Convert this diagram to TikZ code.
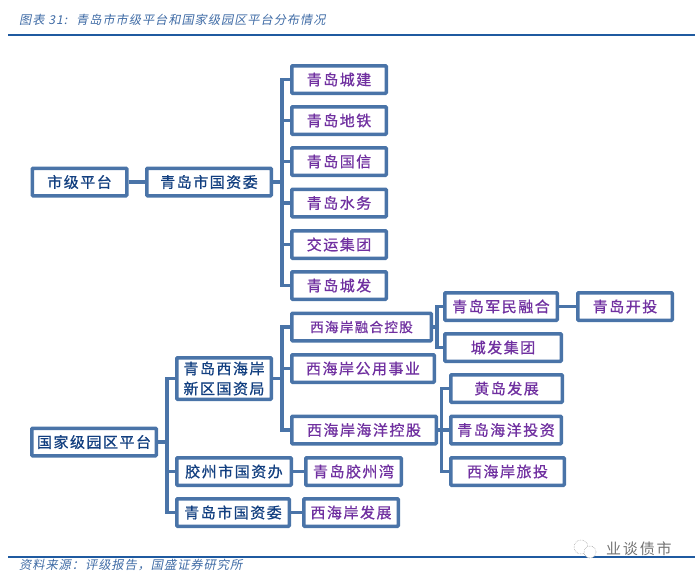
\documentclass[tikz,border=0pt]{standalone}
\usepackage{fontspec}
\newfontfamily\cjk[LetterSpace=10,FakeBold=0.7]{Noto Sans CJK SC}
\newfontfamily\cjkplain[LetterSpace=12]{Noto Sans CJK SC}
\newfontfamily\cjkslant[FakeSlant=0.2,LetterSpace=8]{Noto Sans CJK SC}
\definecolor{boxblue}{HTML}{4A74A8}
\definecolor{headblue}{HTML}{123F80}
\definecolor{leafpurple}{HTML}{7030A0}
\definecolor{ruleblue}{HTML}{1F5AA0}
\definecolor{noteblue}{HTML}{3F6BA5}
\tikzset{
	orgbox/.style={draw=boxblue, line width=3.5, rounded corners=0.8, fill=white, inner sep=0, minimum height=27.5, align=center, text=headblue, font=\cjk\fontsize{15}{20}\selectfont},
	leafbox/.style={orgbox, text=leafpurple},
	link/.style={draw=boxblue, line width=3.5},
	note/.style={anchor=west, inner sep=0, text=noteblue, font=\cjkslant\fontsize{12.2}{15}\selectfont},
	rulerline/.style={draw=ruleblue, line width=1.5}
}

\begin{document}
\begin{tikzpicture}[x=1pt, y=-1pt]
			\useasboundingbox (0, 0) rectangle (695, 581);
			
			%%%%% HEAD AND FOOT %%%%%
			\node[note] (title) at (19, 20) {图表 31:\hspace{9pt}青岛市市级平台和国家级园区平台分布情况};
			\coordinate (topl) at (8, 35);
			\coordinate (topr) at (695, 35);
			\draw[rulerline] (topl) -- (topr);
			
			\coordinate (botl) at (8, 557);
			\coordinate (botr) at (695, 557);
			\draw[rulerline] (botl) -- (botr);
			\node[note] (source) at (19, 565) {资料来源\symbol{"FF1A}评级报告\symbol{"FF0C}国盛证券研究所};
			
			\draw[black!35, line width=0.6, densely dotted] (581, 547) circle (7);
			\draw[black!35, line width=0.6, densely dotted, fill=white] (590, 552) circle (6);
			\node[anchor=west, inner sep=0, text=black!55, font=\cjkplain\fontsize{15}{18}\selectfont] (mark) at (606, 549) {业谈债市};
			
			%%%%% CITY LEVEL %%%%%
			\node[orgbox, minimum width=94.5] (citylevel) at (79.5, 182) {市级平台};
			\node[orgbox, minimum width=124.5] (cityasset) at (209, 182) {青岛市国资委};
			
			\node[leafbox, minimum width=94.5] (chengjian) at (339, 79.5) {青岛城建};
			\node[leafbox, minimum width=94.5] (ditie) at (339, 120.5) {青岛地铁};
			\node[leafbox, minimum width=94.5] (guoxin) at (339, 161.5) {青岛国信};
			\node[leafbox, minimum width=94.5] (shuiwu) at (339, 203) {青岛水务};
			\node[leafbox, minimum width=94.5] (jiaoyun) at (339, 244.5) {交运集团};
			\node[leafbox, minimum width=94.5] (chengfa) at (339, 285.5) {青岛城发};
			
			\draw[link] (citylevel) -- (cityasset);
			\coordinate (citybus) at (282, 182);
			\draw[link] (cityasset) -- (citybus);
			\foreach \leaf in {chengjian, ditie, guoxin, shuiwu, jiaoyun, chengfa}
				\draw[link] (\leaf.west) -| (citybus);
			
			%%%%% NATIONAL LEVEL %%%%%
			\node[orgbox, minimum width=124.5] (natlevel) at (94, 442) {国家级园区平台};
			\node[orgbox, minimum width=94.5, minimum height=41.5] (xihaian) at (224, 378.5) {青岛西海岸\\新区国资局};
			\node[orgbox, minimum width=114.5] (jiaozhou) at (234, 471.5) {胶州市国资办};
			\node[orgbox, minimum width=112.5] (cityasset2) at (233, 512.5) {青岛市国资委};
			
			\node[leafbox, minimum width=139.5, font=\cjk\fontsize{13.5}{18}\selectfont] (ronghe) at (361.5, 327) {西海岸融合控股};
			\node[leafbox, minimum width=142.5] (gongyong) at (363, 368.5) {西海岸公用事业};
			\node[leafbox, minimum width=144.5] (haiyang) at (364, 430) {西海岸海洋控股};
			\node[leafbox, minimum width=95.5] (jiaozhouwan) at (353.5, 471.5) {青岛胶州湾};
			\node[leafbox, minimum width=94.5] (fazhan) at (351, 512.5) {西海岸发展};
			
			\node[leafbox, minimum width=112.5] (junmin) at (501, 306.5) {青岛军民融合};
			\node[leafbox, minimum width=94.5] (kaitou) at (625, 306.5) {青岛开投};
			\node[leafbox, minimum width=116.5] (chengfajt) at (503, 347.5) {城发集团};
			\node[leafbox, minimum width=111.5] (huangdao) at (506.5, 388.5) {黄岛发展};
			\node[leafbox, minimum width=110.5] (haiyangtz) at (506, 430) {青岛海洋投资};
			\node[leafbox, minimum width=113.5] (lvtou) at (507.5, 471.5) {西海岸旅投};
			
			\coordinate (natbus) at (167, 442);
			\draw[link] (natlevel) -- (natbus);
			\foreach \leaf in {xihaian, jiaozhou, cityasset2}
				\draw[link] (\leaf.west) -| (natbus);
			
			\coordinate (xibus) at (282, 378.5);
			\draw[link] (xihaian.east) -- (xibus);
			\foreach \leaf in {ronghe, gongyong, haiyang}
				\draw[link] (\leaf.west) -| (xibus);
			
			\coordinate (rhbus) at (437, 327);
			\draw[link] (ronghe) -- (rhbus);
			\foreach \leaf in {junmin, chengfajt}
				\draw[link] (\leaf.west) -| (rhbus);
			
			\coordinate (hybus) at (441.5, 430);
			\draw[link] (haiyang) -- (hybus);
			\foreach \leaf in {huangdao, haiyangtz, lvtou}
				\draw[link] (\leaf.west) -| (hybus);
			
			\draw[link] (junmin) -- (kaitou);
			\draw[link] (jiaozhou) -- (jiaozhouwan);
			\draw[link] (cityasset2) -- (fazhan);
		\end{tikzpicture}
\end{document}
